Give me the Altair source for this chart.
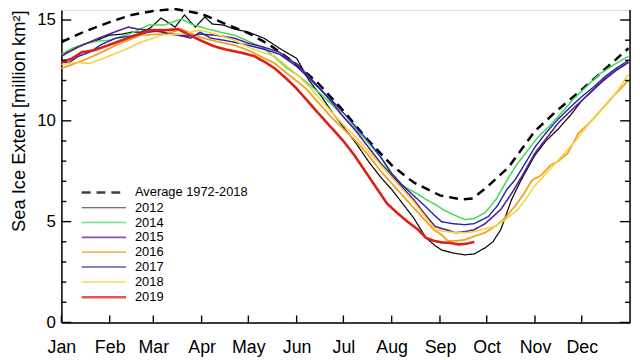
import altair as alt
import pandas as pd

# ---------------- data ----------------
series_names = ["Average 1972-2018", "2012", "2014", "2015", "2016", "2017", "2018", "2019"]
series_colors = ["#000000", "#000000", "#3ddc4f", "#5b1e8e", "#f0a21e", "#1c22b4", "#f7d245", "#dc1e14"]
series_dash = [[9, 6], [1, 0], [1, 0], [1, 0], [1, 0], [1, 0], [1, 0], [1, 0]]
series_width = [2.5, 1.2, 1.5, 1.6, 1.8, 1.4, 1.6, 2.6]

month_names = ["Jan", "Feb", "Mar", "Apr", "May", "Jun", "Jul", "Aug", "Sep", "Oct", "Nov", "Dec"]
month_starts = [1, 32, 60, 91, 121, 152, 182, 213, 244, 274, 305, 335]
y_major = [0, 5, 10, 15]
y_minor = [1, 2, 3, 4, 6, 7, 8, 9, 11, 12, 13, 14]

days_avg = [1, 15, 32, 46, 60, 74, 91, 105, 121, 135, 152, 166, 182, 196, 213, 227, 244, 258, 265, 274, 288, 305, 319, 335, 349, 365]
ext_avg = [13.9, 14.4, 14.9, 15.25, 15.45, 15.55, 15.3, 14.85, 14.35, 13.75, 12.8, 11.85, 10.5, 9.2, 7.8, 6.95, 6.3, 6.1, 6.15, 6.7, 7.7, 9.5, 10.5, 11.55, 12.5, 13.6]

days_2012 = [1, 8, 15, 24, 32, 40, 46, 52, 58, 65, 70, 74, 80, 84, 87, 93, 98, 105, 112, 121, 131, 141, 152, 160, 168, 176, 182, 190, 198, 206, 213, 220, 227, 235, 241, 245, 252, 260, 266, 273, 278, 283, 290, 296, 305, 312, 320, 328, 335, 342, 349, 357, 365]
ext_2012 = [13.3, 13.5, 13.8, 14.0, 14.25, 14.3, 14.4, 14.4, 14.6, 15.1, 14.85, 14.65, 15.25, 14.9, 14.65, 15.15, 14.8, 14.75, 14.55, 14.4, 14.1, 13.6, 13.1, 12.0, 11.2, 10.3, 9.7, 8.9, 8.0, 7.2, 6.6, 5.9, 5.2, 4.2, 3.8, 3.6, 3.45, 3.35, 3.4, 3.7, 4.0, 4.6, 6.1, 7.05, 8.3, 9.0, 9.6, 10.3, 11.0, 11.5, 12.0, 12.5, 12.9]

days_2014 = [1, 8, 15, 24, 32, 40, 46, 57, 67, 78, 86, 95, 103, 112, 121, 131, 138, 146, 152, 160, 168, 176, 182, 190, 198, 206, 215, 222, 229, 235, 241, 247, 254, 260, 266, 273, 280, 287, 293, 300, 307, 315, 322, 330, 338, 346, 354, 365]
ext_2014 = [13.3, 13.6, 13.8, 13.95, 14.0, 14.2, 14.35, 14.75, 14.75, 15.05, 14.75, 14.55, 14.4, 14.25, 13.95, 13.6, 13.15, 12.6, 12.3, 11.8, 11.3, 10.7, 10.2, 9.6, 8.9, 8.2, 7.05, 6.7, 6.4, 6.1, 5.85, 5.55, 5.3, 5.1, 5.15, 5.45, 6.1, 7.05, 7.8, 8.5, 9.2, 9.8, 10.4, 11.1, 11.7, 12.3, 12.7, 13.2]

days_2015 = [1, 10, 25, 35, 44, 50, 57, 66, 74, 82, 90, 100, 112, 121, 131, 141, 152, 160, 168, 176, 182, 190, 198, 206, 213, 220, 227, 234, 241, 248, 254, 260, 266, 273, 283, 290, 297, 305, 313, 320, 328, 335, 343, 350, 357, 365]
ext_2015 = [13.2, 13.6, 14.1, 14.4, 14.65, 14.55, 14.5, 14.4, 14.3, 14.2, 14.3, 14.25, 14.1, 13.85, 13.65, 13.4, 12.8, 12.2, 11.5, 10.8, 10.2, 9.5, 8.7, 7.9, 7.3, 6.7, 6.1, 5.4, 4.75, 4.6, 4.45, 4.5, 4.6, 4.9, 5.6, 6.4, 7.3, 8.4, 9.2, 9.9, 10.5, 11.0, 11.6, 12.1, 12.5, 12.9]

days_2016 = [1, 8, 15, 24, 36, 44, 52, 65, 72, 78, 84, 90, 100, 112, 121, 130, 138, 145, 150, 158, 166, 174, 182, 190, 198, 206, 213, 220, 227, 234, 240, 245, 249, 255, 260, 267, 273, 280, 286, 292, 298, 303, 309, 315, 320, 326, 333, 340, 347, 355, 365]
ext_2016 = [12.6, 12.8, 13.0, 13.3, 13.75, 14.0, 14.25, 14.3, 14.4, 14.55, 14.35, 14.15, 13.95, 13.75, 13.5, 13.15, 12.85, 12.4, 12.1, 11.6, 10.9, 10.2, 9.6, 9.0, 8.3, 7.5, 6.9, 6.3, 5.7, 5.1, 4.6, 4.35, 4.05, 4.05, 4.1, 4.3, 4.45, 4.8, 5.2, 5.75, 6.4, 7.05, 7.3, 7.8, 8.0, 8.4, 9.4, 9.9, 10.5, 11.2, 12.0]

days_2017 = [1, 6, 12, 19, 27, 36, 45, 57, 64, 70, 76, 84, 90, 97, 105, 112, 121, 131, 141, 152, 160, 168, 176, 182, 190, 198, 206, 213, 220, 227, 234, 240, 245, 252, 260, 266, 275, 281, 287, 292, 298, 305, 312, 320, 328, 335, 343, 350, 357, 365]
ext_2017 = [12.9, 12.9, 13.2, 13.4, 13.8, 14.1, 14.2, 14.4, 14.45, 14.3, 14.25, 14.1, 14.4, 14.1, 14.0, 13.9, 13.75, 13.55, 13.3, 12.7, 12.1, 11.5, 10.9, 10.4, 9.7, 9.0, 8.2, 7.4, 6.8, 6.3, 5.8, 5.35, 5.0, 4.9, 4.85, 4.9, 5.25, 5.8, 6.6, 7.05, 7.8, 8.7, 9.4, 10.1, 10.7, 11.2, 11.7, 12.2, 12.6, 13.0]

days_2018 = [1, 10, 19, 28, 36, 44, 52, 60, 65, 72, 78, 84, 90, 100, 112, 121, 130, 138, 146, 152, 160, 168, 176, 182, 190, 198, 206, 213, 220, 227, 234, 241, 248, 255, 260, 266, 273, 279, 286, 294, 299, 304, 310, 317, 324, 331, 338, 345, 352, 358, 365]
ext_2018 = [12.8, 12.9, 12.85, 13.1, 13.35, 13.6, 13.9, 14.1, 14.25, 14.3, 14.3, 14.4, 14.5, 14.3, 14.0, 13.65, 13.4, 13.2, 12.7, 12.3, 11.7, 11.0, 10.3, 9.8, 9.2, 8.5, 7.8, 7.2, 6.6, 6.0, 5.3, 4.6, 4.5, 4.45, 4.45, 4.5, 4.65, 4.75, 5.1, 5.6, 6.1, 6.7, 7.2, 7.8, 8.4, 9.0, 9.7, 10.3, 10.9, 11.5, 12.3]

days_2019 = [1, 8, 14, 22, 31, 40, 49, 59, 68, 76, 82, 90, 99, 106, 112, 118, 125, 132, 138, 146, 152, 160, 168, 175, 182, 189, 196, 203, 210, 217, 224, 230, 235, 240, 245, 250, 256, 261, 266]
ext_2019 = [12.9, 13.1, 13.4, 13.5, 13.75, 14.0, 14.25, 14.5, 14.5, 14.55, 14.3, 14.0, 13.7, 13.55, 13.45, 13.35, 13.2, 12.9, 12.6, 12.05, 11.6, 10.9, 10.2, 9.6, 9.0, 8.3, 7.5, 6.7, 5.9, 5.4, 4.95, 4.6, 4.2, 4.05, 3.97, 3.95, 3.87, 3.9, 4.0]

all_days = [days_avg, days_2012, days_2014, days_2015, days_2016, days_2017, days_2018, days_2019]
all_ext = [ext_avg, ext_2012, ext_2014, ext_2015, ext_2016, ext_2017, ext_2018, ext_2019]

rows = []
for name, ds, es in zip(series_names, all_days, all_ext):
    for d, e in zip(ds, es):
        rows.append({"series": name, "day": d, "extent": e})
df = pd.DataFrame(rows)

# ---------------- chart ----------------
FONT = "Liberation Sans"
W, H = 575, 316
ytitle = "Sea Ice Extent [million km²]"

xscale = alt.Scale(domain=[1, 366], nice=False, zero=False)
yscale = alt.Scale(domain=[0, 15.5], nice=False, zero=False)

month_expr = "[" + ",".join("'%s'" % m for m in month_names) + "][indexof([" + ",".join(str(v) for v in month_starts) + "], datum.value)]"

xaxis = alt.Axis(values=month_starts, labelExpr=month_expr, ticks=False, tickSize=0, grid=False,
                 domainColor="black", domainWidth=1.5, labelFontSize=18, labelFont=FONT,
                 labelColor="black", labelPadding=16.5, labelAlign="center", title=None)
yaxis = alt.Axis(values=y_major, ticks=False, tickSize=0, grid=False, domainColor="black",
                 domainWidth=1.5, labelFontSize=17, labelFont=FONT, labelColor="black",
                 labelPadding=6, title=ytitle, titleFont=FONT, titleFontSize=18.5,
                 titleFontWeight="normal", titleColor="black", titlePadding=8, titleY=112)

xenc = alt.X("day:Q", scale=xscale, axis=xaxis, title=None)
yenc = alt.Y("extent:Q", scale=yscale, axis=yaxis, title=ytitle)

color_scale = alt.Scale(domain=series_names, range=series_colors)
dash_scale = alt.Scale(domain=series_names, range=series_dash)
width_scale = alt.Scale(type="ordinal", domain=series_names, range=series_width)
legend = alt.Legend(orient="none", legendX=34.4, legendY=176, title=None, symbolType="M-3.2,0H3.2",
                    symbolSize=196, labelFontSize=13, labelFont=FONT, labelColor="black",
                    labelOffset=23, padding=0, rowPadding=0, symbolOpacity=0.75)

base = alt.Chart(df).mark_line(clip=False).encode(
    x=xenc,
    y=yenc,
    color=alt.Color("series:N", scale=color_scale, legend=legend, sort=series_names),
    strokeDash=alt.StrokeDash("series:N", scale=dash_scale, legend=legend, sort=series_names),
    strokeWidth=alt.StrokeWidth("series:N", scale=width_scale, legend=legend, sort=series_names),
)

line_layers = [base.transform_filter(alt.datum.series == s) for s in series_names]

ymaj_df = pd.DataFrame({"extent": y_major})
ymin_df = pd.DataFrame({"extent": y_minor})
xt_df = pd.DataFrame({"day": month_starts})
right_df = pd.DataFrame({"day": [366]})

tick_layers = [
    alt.Chart(ymaj_df).mark_rule(color="black", strokeWidth=1.4).encode(y=yenc, x=alt.value(0), x2=alt.value(10)),
    alt.Chart(ymin_df).mark_rule(color="black", strokeWidth=1.4).encode(y=yenc, x=alt.value(0), x2=alt.value(5)),
    alt.Chart(ymaj_df).mark_rule(color="black", strokeWidth=1.4).encode(y=yenc, x=alt.value(W), x2=alt.value(W - 10)),
    alt.Chart(ymin_df).mark_rule(color="black", strokeWidth=1.4).encode(y=yenc, x=alt.value(W), x2=alt.value(W - 5)),
    alt.Chart(xt_df).mark_rule(color="black", strokeWidth=1.4).encode(x=xenc, y=alt.value(H), y2=alt.value(H - 7)),
    alt.Chart(right_df).mark_rule(color="black", strokeWidth=1.5).encode(x=xenc, y=alt.value(0), y2=alt.value(H)),
]

chart = alt.layer(*line_layers, *tick_layers).properties(
    width=W, height=H,
    autosize=alt.AutoSizeParams(type="none"),
    padding={"left": 54, "top": 0, "right": 2, "bottom": 35},
).configure_view(stroke=None).configure(background="white")

chart.save("out.html", embed_options={"renderer": "svg", "actions": False})
